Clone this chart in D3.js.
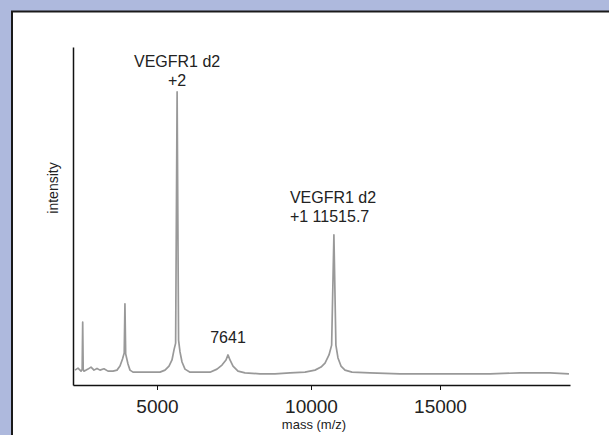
<!DOCTYPE html>
<html>
<head>
<meta charset="utf-8">
<script src="https://cdn.jsdelivr.net/npm/d3@7"></script>
<style>
  html, body { margin: 0; padding: 0; background: #aeb9dd; }
  svg { display: block; }
  text { font-family: "Liberation Sans", Arial, sans-serif; fill: #222; }
</style>
</head>
<body>
<div id="chart"></div>
<script>
// m/z tick values printed on the axis
const tickValues = [5000, 10000, 15000];

// spectrum: [m/z, relative intensity]
const spectrum = [
  [2335, 4.4], [2432, 5.0], [2530, 4.1], [2568, 4.6], [2585, 18.6], [2602, 4.6],
  [2627, 4.1], [2757, 4.7], [2855, 5.3], [2952, 4.4], [3050, 4.9], [3147, 4.4],
  [3277, 4.8], [3407, 4.1], [3570, 4.1], [3700, 4.4], [3797, 5.6], [3879, 7.7],
  [3935, 9.5], [3958, 24.0], [3982, 9.2], [4057, 6.2], [4122, 4.4],
  [4220, 3.8], [4447, 3.8], [4772, 3.8], [5097, 3.8], [5260, 4.4], [5390, 5.6],
  [5487, 7.4], [5552, 10.4], [5605, 12.4], [5653, 86.7], [5700, 13.3],
  [5747, 9.8], [5812, 6.8], [5909, 4.7], [6072, 3.8], [6396, 3.8], [6721, 3.8],
  [6948, 4.7], [7110, 5.9], [7240, 7.4], [7305, 8.9], [7370, 7.4], [7468, 5.6],
  [7630, 4.1], [7857, 3.6], [8344, 3.3], [8831, 3.3], [9318, 3.6], [9805, 3.8],
  [10155, 4.4], [10388, 5.3], [10543, 6.5], [10698, 8.9], [10800, 11.8], [10888, 44.4],
  [10965, 11.8], [11046, 8.0], [11163, 5.6], [11318, 4.4], [11589, 3.8],
  [12287, 3.6], [13450, 3.3], [14613, 3.3], [15775, 3.3], [16938, 3.3], [18101, 3.6],
  [19264, 3.6], [20000, 3.3]
];

// peak labels: m/z of the peak they sit on and their text lines
const peakMz = [5653, 7305, 10888];
const peakHeights = [86.7, 8.9, 44.4];
const peakLabels = [["VEGFR1 d2", "+2"], ["7641"], ["VEGFR1 d2", "+1 11515.7"]];

const W = 609, H = 435;
const mLeft = 73, mRight = 570, mTop = 47, mBottom = 385;

const svg = d3.select('#chart').append('svg')
  .attr('width', W).attr('height', H);

// white panel with dark top/left edge
svg.append('rect').attr('x', 11).attr('y', 11).attr('width', W).attr('height', H)
  .attr('fill', '#fff');
svg.append('path')
  .attr('d', `M12,${H} V11.5 H${W}`)
  .attr('fill', 'none').attr('stroke', '#1a1a1a').attr('stroke-width', 2);

// the printed axis is not evenly spaced, so the scale is piecewise
const x = d3.scaleLinear()
  .domain([2270, 5000, 10000, 15000, 20040])
  .range([mLeft, 157, 311, 440, mRight]);

const y = d3.scaleLinear().domain([0, 100]).range([mBottom, mTop]);

const line = d3.line()
  .x(d => x(d[0]))
  .y(d => y(d[1]));

svg.append('path')
  .datum(spectrum)
  .attr('fill', 'none')
  .attr('stroke', '#999')
  .attr('stroke-width', 1.7)
  .attr('stroke-linejoin', 'round')
  .attr('d', line);

const xAxis = svg.append('g')
  .attr('transform', `translate(0,${mBottom})`)
  .call(d3.axisBottom(x).tickValues(tickValues).tickFormat(d3.format('d'))
    .tickSizeInner(5).tickSizeOuter(0).tickPadding(10));
xAxis.select('.domain').attr('stroke', '#111').attr('stroke-width', 1.5);
xAxis.selectAll('.tick line').attr('stroke', '#111');
xAxis.selectAll('.tick text').attr('font-size', 19).attr('fill', '#222')
  .attr('font-family', '"Liberation Sans", Arial, sans-serif');

const yAxis = svg.append('g')
  .attr('transform', `translate(${mLeft},0)`)
  .call(d3.axisLeft(y).tickValues([]).tickSizeOuter(0));
yAxis.select('.domain').attr('stroke', '#111').attr('stroke-width', 1.5);

svg.append('text')
  .attr('x', 314)
  .attr('y', 429)
  .attr('text-anchor', 'middle')
  .attr('font-size', 13)
  .text('mass (m/z)');

svg.append('text')
  .attr('transform', `translate(58,188) rotate(-90)`)
  .attr('text-anchor', 'middle')
  .attr('font-size', 14)
  .text('intensity');

// label placement relative to each peak top
const labelStyle = [
  { anchor: 'middle', dx: 0, dy: -6 },
  { anchor: 'middle', dx: 0, dy: -12 },
  { anchor: 'start', dx: -44, dy: -13 }
];

peakLabels.forEach((lines, i) => {
  const px = x(peakMz[i]) + labelStyle[i].dx;
  const py = y(peakHeights[i]) + labelStyle[i].dy;
  const t = svg.append('text')
    .attr('text-anchor', labelStyle[i].anchor)
    .attr('font-size', 16);
  lines.forEach((s, j) => {
    t.append('tspan')
      .attr('x', px)
      .attr('y', py - (lines.length - 1 - j) * 19)
      .text(s);
  });
});
</script>
</body>
</html>
